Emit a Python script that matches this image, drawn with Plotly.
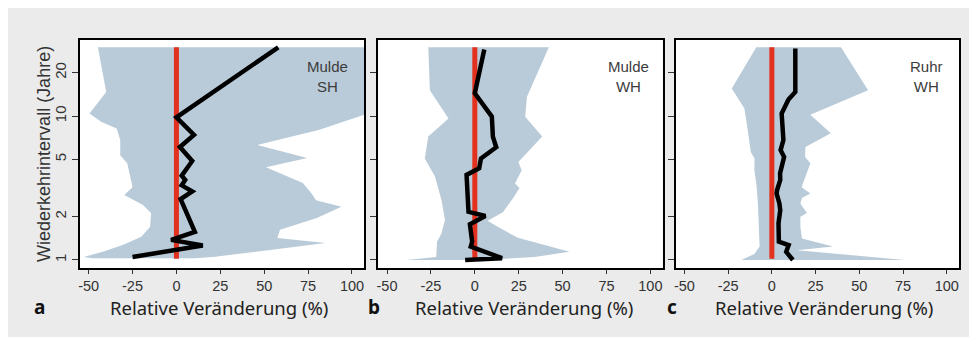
import plotly.graph_objects as go
from plotly.subplots import make_subplots

# ---------------- data ----------------
# Panel a: Mulde SH
a_lo_y = [1.03, 1.05, 1.14, 1.27, 1.45, 1.70, 2.11, 2.41, 2.83, 3.2, 4.7, 5.35, 6.8, 8.2, 9.1, 10.4, 14.7, 30]
a_lo_x = [-48, -52.7, -42, -30.6, -20, -15, -14.4, -19, -29.7, -25, -28, -32, -32, -34, -42.7, -49.5, -40, -44.7]
a_hi_y = [1.03, 1.05, 1.31, 1.42, 1.62, 1.96, 2.34, 2.6, 2.9, 3.42, 4.4, 5.1, 6.3, 8.0, 11.5, 30]
a_hi_x = [10, 21, 85, 57.5, 59, 80, 94, 79.5, 77, 72, 51, 74.5, 46, 81, 120, 120]
a_med_y = [1.05, 1.19, 1.26, 1.38, 1.57, 2.65, 3.0, 3.3, 3.6, 3.85, 4.2, 4.87, 6.1, 7.4, 9.8, 30]
a_med_x = [-25, 0, 15, -3, 10.5, 2.4, 9, 3, 5, 3, 5, 9, 2, 10, 0, 58]

# Panel b: Mulde WH
b_lo_y = [1.0, 1.05, 1.34, 1.53, 1.9, 2.2, 2.61, 3.8, 5.07, 7.2, 9.6, 15.1, 30]
b_lo_x = [-39, -22, -21.5, -19, -17, -18, -19, -22.7, -28.5, -26.5, -15, -25.6, -26.5]
b_hi_y = [1.0, 1.05, 1.14, 1.43, 1.70, 1.87, 2.15, 2.7, 3.16, 3.4, 4.2, 4.8, 7.2, 9.9, 13.6, 30]
b_hi_x = [5, 34, 54, 24.5, 13, 7.3, 16, 21.9, 25.5, 22.9, 26.7, 24.8, 38.4, 28.7, 29.7, 42.2]
b_med_y = [1.0, 1.03, 1.24, 1.34, 1.77, 2.02, 2.16, 3.9, 4.33, 5.07, 6.07, 7.2, 9.9, 14.4, 29]
b_med_x = [-5.5, 15.5, -2.3, -1.5, -2.8, 6, -3.6, -4.7, 2.5, 3.5, 12.2, 10.3, 9.7, 0, 5.4]

# Panel c: Ruhr WH
c_lo_y = [1.0, 1.1, 1.24, 1.8, 2.5, 3.4, 4.2, 5.07, 5.6, 8.0, 11.3, 15.5, 30]
c_lo_x = [-17.5, -10, -7, -7.5, -8, -8.9, -10, -9.9, -12, -13.8, -15.7, -22.9, -8.9]
c_hi_y = [1.0, 1.17, 1.24, 1.41, 1.7, 2.0, 2.12, 2.47, 2.7, 2.9, 3.2, 4.7, 5.2, 6.1, 7.6, 10.2, 15.1, 30]
c_hi_x = [76, 14.3, 35, 17.2, 16.3, 16.3, 20, 16.3, 17.2, 22, 17, 22, 19, 19.2, 33.7, 22, 55, 39.5]
c_med_y = [1.0, 1.14, 1.27, 1.34, 1.8, 2.22, 2.47, 2.9, 3.06, 3.6, 4.0, 5.2, 5.8, 6.8, 10.4, 13, 14.7, 29.5]
c_med_x = [12, 8.2, 9.6, 4, 3.8, 4.8, 4.3, 2.7, 3, 4.8, 4.7, 7, 5, 6.6, 5.6, 9.5, 13.4, 13.4]

ref_y = [1.02, 30]
ref_x = [0, 0]

panel_labels = ["Mulde<br>SH", "Mulde<br>WH", "Ruhr<br>WH"]
panel_letters = ["a", "b", "c"]
x_ticks = [-50, -25, 0, 25, 50, 75, 100]
x_ticktext = ["-50", "-25", "0", "25", "50", "75", "100"]
y_ticks = [1, 2, 5, 10, 20]
x_title = "Relative Veränderung (%)"
y_title = "Wiederkehrintervall (Jahre)"

# ---------------- figure ----------------
W, H = 977, 337
SHADE = "#b9cbd8"
RED = "#e2311f"

fig = make_subplots(rows=1, cols=3)

panels = [
    (a_lo_x, a_lo_y, a_hi_x, a_hi_y, a_med_x, a_med_y),
    (b_lo_x, b_lo_y, b_hi_x, b_hi_y, b_med_x, b_med_y),
    (c_lo_x, c_lo_y, c_hi_x, c_hi_y, c_med_x, c_med_y),
]

for i, (lx, ly, hx, hy, mx, my) in enumerate(panels):
    col = i + 1
    fig.add_trace(go.Scatter(x=lx + hx[::-1], y=ly + hy[::-1], fill="toself",
                             fillcolor=SHADE, line=dict(width=0, color=SHADE),
                             mode="lines", hoverinfo="skip", showlegend=False),
                  row=1, col=col)
    fig.add_trace(go.Scatter(x=ref_x, y=ref_y, mode="lines",
                             line=dict(color=RED, width=5), showlegend=False),
                  row=1, col=col)
    fig.add_trace(go.Scatter(x=mx, y=my, mode="lines",
                             line=dict(color="black", width=4.5), showlegend=False),
                  row=1, col=col)

# pixel layout (figure coords; page adds an 8px body margin)
x_doms = [(70, 355), (369, 654), (667, 951)]
y_top, y_bot = 32, 260
for i, (x0, x1) in enumerate(x_doms):
    xa = "xaxis" if i == 0 else f"xaxis{i+1}"
    ya = "yaxis" if i == 0 else f"yaxis{i+1}"
    fig.layout[xa].update(
        domain=[x0 / W, x1 / W], range=[-55, 107], tickvals=x_ticks, ticktext=x_ticktext,
        showline=True, mirror=True, linecolor="black", linewidth=1.5,
        ticks="outside", ticklen=4, tickcolor="#333", tickwidth=1,
        showgrid=False, zeroline=False,
        tickfont=dict(family="Liberation Sans, Arial", size=14.5, color="#333"),
    )
    fig.layout[ya].update(
        domain=[1 - y_bot / H, 1 - y_top / H], type="log",
        range=[-0.0556, 1.528], tickvals=y_ticks, ticktext=[str(v) for v in y_ticks],
        showline=True, mirror=True, linecolor="black", linewidth=1.5,
        ticks="outside", ticklen=6, tickcolor="#333", tickwidth=1,
        showgrid=False, zeroline=False, tickangle=-90,
        showticklabels=(i == 0),
        tickfont=dict(family="Liberation Sans, Arial", size=15, color="#333"),
    )

ann = []
label_cx = [318, 620, 918]
title_cx = [209, 515, 816]
letter_cx = [30, 365, 663]
for i in range(3):
    ann.append(dict(x=label_cx[i] / W, y=1 - 69 / H, xref="paper", yref="paper",
                    text=panel_labels[i], showarrow=False, xanchor="center", yanchor="middle",
                    font=dict(family="Liberation Sans, Arial", size=15, color="#3c3c3c")))
    ann.append(dict(x=title_cx[i] / W, y=1 - 299 / H, xref="paper", yref="paper",
                    text=x_title, showarrow=False, xanchor="center", yanchor="middle",
                    font=dict(family="Noto Sans", size=18.5, color="#222")))
    ann.append(dict(x=letter_cx[i] / W, y=1 - 299 / H, xref="paper", yref="paper",
                    text="<b>" + panel_letters[i] + "</b>", showarrow=False,
                    xanchor="center", yanchor="middle",
                    font=dict(family="Noto Sans", size=19, color="#111")))
ann.append(dict(x=34 / W, y=1 - 146 / H, xref="paper", yref="paper", text=y_title,
                showarrow=False, textangle=-90, xanchor="center", yanchor="middle",
                font=dict(family="Liberation Sans, Arial", size=18, color="#333")))

fig.update_layout(
    width=W, height=H, autosize=False,
    margin=dict(l=0, r=0, t=0, b=0),
    paper_bgcolor="#ebebeb", plot_bgcolor="white",
    annotations=ann,
)

fig.write_html("out.html")
